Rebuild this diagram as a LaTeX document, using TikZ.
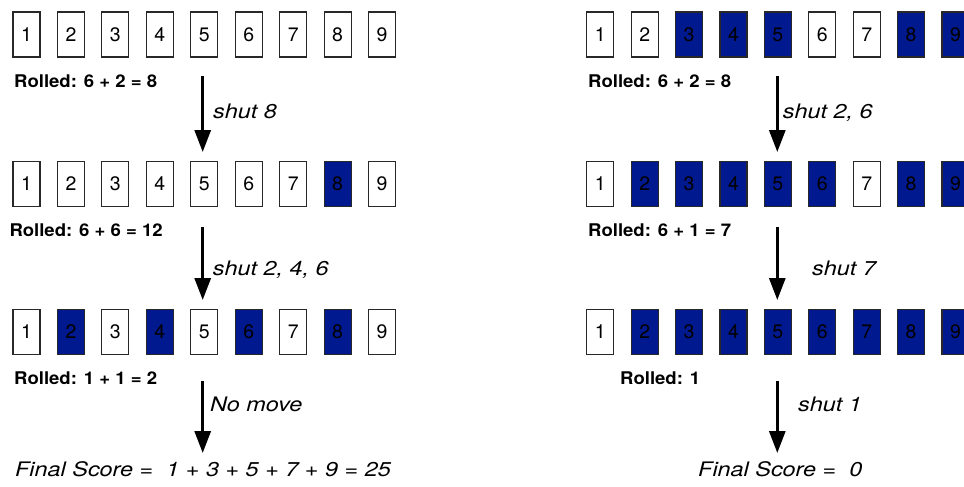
\documentclass[tikz,border=0pt]{standalone}
\usepackage{fontspec}
\setmainfont{TeX Gyre Heros}
\usetikzlibrary{arrows.meta}
\definecolor{shutblue}{RGB}{0,25,142}
\definecolor{tileedge}{RGB}{40,40,40}
% horizontally widened text
\newcommand{\widetext}[2]{\scalebox{#1}[1]{#2}}
\tikzset{
  tile/.style={draw=tileedge, line width=1.1pt, minimum width=27pt, minimum height=45pt,
    inner sep=0pt, font=\fontsize{19.5}{19.5}\selectfont},
  tileopen/.style={tile, fill=white},
  tileshut/.style={tile, fill=shutblue},
  rolled/.style={anchor=base west, inner sep=0pt, font=\fontsize{17.5}{17.5}\selectfont\bfseries},
  move/.style={anchor=base west, inner sep=0pt, font=\fontsize{20}{20}\selectfont\itshape},
  turn/.style={line width=3pt, -{Triangle[width=16pt,length=22pt]}}
}
\begin{document}
\begin{tikzpicture}[x=1pt,y=-1pt]
\useasboundingbox (0,0) rectangle (964,487);
\clip (0,0) rectangle (964,487);

% ---------- left game ----------
\foreach \i/\st in {1/tileopen,2/tileopen,3/tileopen,4/tileopen,5/tileopen,6/tileopen,7/tileopen,8/tileopen,9/tileopen}
  \node[\st] (a\i) at ({26.5+44.45*(\i-1)}, 34.5) {\i};
\foreach \i/\st in {1/tileopen,2/tileopen,3/tileopen,4/tileopen,5/tileopen,6/tileopen,7/tileopen,8/tileshut,9/tileopen}
  \node[\st] (b\i) at ({26.5+44.45*(\i-1)}, 183.7) {\i};
\foreach \i/\st in {1/tileopen,2/tileshut,3/tileopen,4/tileshut,5/tileopen,6/tileshut,7/tileopen,8/tileshut,9/tileopen}
  \node[\st] (c\i) at ({26.5+44.45*(\i-1)}, 332) {\i};

\node[rolled] (ra) at (14,87.3) {\widetext{1.06}{Rolled: 6 + 2 = 8}};
\node[rolled] (rb) at (9.3,236.5) {\widetext{1.06}{Rolled: 6 + 6 = 12}};
\node[rolled] (rc) at (14,384.8) {\widetext{1.06}{Rolled: 1 + 1 = 2}};

\coordinate (ta0) at (202.7,76);   \coordinate (ta1) at (202.7,152);
\coordinate (tb0) at (202.7,227);  \coordinate (tb1) at (202.7,300);
\coordinate (tc0) at (202.7,381);  \coordinate (tc1) at (202.7,453);
\draw[turn] (ta0) -- (ta1);
\draw[turn] (tb0) -- (tb1);
\draw[turn] (tc0) -- (tc1);

\node[move] (ma) at (213,118.3) {\widetext{1.17}{shut 8}};
\node[move] (mb) at (212.7,275) {\widetext{1.17}{shut 2, 4, 6}};
\node[move] (mc) at (210,411.7) {\widetext{1.17}{No move}};
\node[move] (fa) at (15,476.7) {\widetext{1.17}{Final Score =\ \ 1 + 3 + 5 + 7 + 9 = 25}};

% ---------- right game ----------
\foreach \i/\st in {1/tileopen,2/tileopen,3/tileshut,4/tileshut,5/tileshut,6/tileopen,7/tileopen,8/tileshut,9/tileshut}
  \node[\st] (d\i) at ({600.3+44.4*(\i-1)}, 34.5) {\i};
\foreach \i/\st in {1/tileopen,2/tileshut,3/tileshut,4/tileshut,5/tileshut,6/tileshut,7/tileopen,8/tileshut,9/tileshut}
  \node[\st] (e\i) at ({600.3+44.4*(\i-1)}, 183.7) {\i};
\foreach \i/\st in {1/tileopen,2/tileshut,3/tileshut,4/tileshut,5/tileshut,6/tileshut,7/tileshut,8/tileshut,9/tileshut}
  \node[\st] (f\i) at ({600.3+44.4*(\i-1)}, 332) {\i};

\node[rolled] (rd) at (588,87.3) {\widetext{1.06}{Rolled: 6 + 2 = 8}};
\node[rolled] (re) at (588,236.5) {\widetext{1.06}{Rolled: 6 + 1 = 7}};
\node[rolled] (rf) at (620,384.8) {\widetext{1.06}{Rolled: 1}};

\coordinate (td0) at (777.3,76);   \coordinate (td1) at (777.3,152);
\coordinate (te0) at (777.3,227);  \coordinate (te1) at (777.3,300);
\coordinate (tf0) at (777.3,381);  \coordinate (tf1) at (777.3,453);
\draw[turn] (td0) -- (td1);
\draw[turn] (te0) -- (te1);
\draw[turn] (tf0) -- (tf1);

\node[move] (md) at (782.7,118.3) {\widetext{1.17}{shut 2, 6}};
\node[move] (me) at (812,275) {\widetext{1.17}{shut 7}};
\node[move] (mf) at (798,411.7) {\widetext{1.17}{shut 1}};
\node[move] (fd) at (698,476.7) {\widetext{1.17}{Final Score =\ \ 0}};
\end{tikzpicture}
\end{document}
